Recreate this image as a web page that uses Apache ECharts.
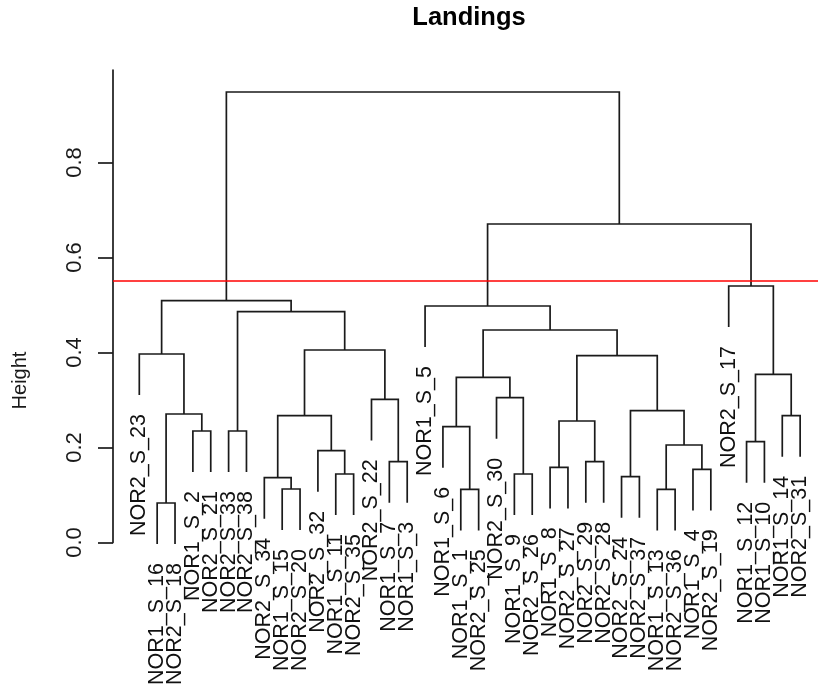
<!DOCTYPE html>
<html>
<head>
<meta charset="utf-8">
<title>Landings</title>
<script src="https://cdn.jsdelivr.net/npm/echarts@6/dist/echarts.min.js"></script>
<style>
  html, body { margin: 0; padding: 0; background: #ffffff; }
  #chart { width: 818px; height: 695px; }
</style>
</head>
<body>
<div id="chart"></div>
<script>
// Leaves in dendrogram order (left to right)
const leafLabels = [
  'NOR2_S_23', 'NOR1_S_16', 'NOR2_S_18', 'NOR1_S_2', 'NOR2_S_21', 'NOR2_S_33',
  'NOR2_S_38', 'NOR2_S_34', 'NOR1_S_15', 'NOR2_S_20', 'NOR2_S_32', 'NOR1_S_11',
  'NOR2_S_35', 'NOR2_S_22', 'NOR1_S_7', 'NOR1_S_3', 'NOR1_S_5', 'NOR1_S_6',
  'NOR1_S_1', 'NOR2_S_25', 'NOR2_S_30', 'NOR1_S_9', 'NOR2_S_26', 'NOR1_S_8',
  'NOR2_S_27', 'NOR2_S_29', 'NOR2_S_28', 'NOR2_S_24', 'NOR2_S_37', 'NOR1_S_13',
  'NOR2_S_36', 'NOR1_S_4', 'NOR2_S_19', 'NOR2_S_17', 'NOR1_S_12', 'NOR1_S_10',
  'NOR1_S_14', 'NOR2_S_31'
];

// Merge steps, hclust style: negative = leaf number (1-based), positive = earlier merge row (1-based)
const mergePairs = [
  [-2, -3], [-4, -5], [1, 2], [-1, 3], [-6, -7], [-9, -10], [-8, 6], [-12, -13],
  [-11, 8], [7, 9], [-15, -16], [-14, 11], [10, 12], [5, 13], [4, 14],
  [-19, -20], [-18, 16], [-22, -23], [-21, 18], [17, 19], [-24, -25], [-26, -27],
  [21, 22], [-28, -29], [-30, -31], [-32, -33], [25, 26], [24, 27], [23, 28],
  [20, 29], [-17, 30], [-35, -36], [-37, -38], [32, 33], [-34, 34], [31, 35],
  [15, 36]
];

// Height of each merge step
const mergeHeights = [
  0.0832, 0.2347, 0.2705, 0.3968, 0.2347, 0.1126, 0.1364, 0.1442,
  0.1933, 0.2669, 0.1701, 0.3015, 0.4053, 0.4859, 0.5091,
  0.1120, 0.2438, 0.1442, 0.3048, 0.3478, 0.1583, 0.1701,
  0.2558, 0.1385, 0.1120, 0.1541, 0.2053, 0.2775, 0.3933,
  0.4474, 0.4979, 0.2122, 0.2669, 0.3541, 0.5400, 0.6705,
  0.9484
];

const cutHeight = 0.55;
const yTicks = [0, 0.2, 0.4, 0.6, 0.8];
const chartTitle = 'Landings';
const yTitle = 'Height';

// Leaves hang below their parent by a tenth of the height range
const hang = 0.1 * (Math.max(...mergeHeights) - Math.min(...mergeHeights));

// Horizontal position of each merge = midpoint of its two children
const mergeX = [];
const segments = [];   // [xLeft, hLeft, xRight, hRight, hMerge]
const leafEnds = new Array(leafLabels.length);

function childPos(ref, parentH) {
  if (ref < 0) {
    const idx = -ref - 1;
    leafEnds[idx] = parentH - hang;
    return [idx, parentH - hang];
  }
  return [mergeX[ref - 1], mergeHeights[ref - 1]];
}

mergePairs.forEach(function (pair, i) {
  const h = mergeHeights[i];
  const a = childPos(pair[0], h);
  const b = childPos(pair[1], h);
  mergeX[i] = (a[0] + b[0]) / 2;
  segments.push([a[0], a[1], b[0], b[1], h]);
});

const leafData = leafLabels.map(function (name, i) { return [i, leafEnds[i]]; });

const FONT = '"Liberation Sans", Arial, sans-serif';
const INK = '#1a1a1a';
const chart = echarts.init(document.getElementById('chart'), null, { renderer: 'canvas' });

chart.setOption({
  animation: false,
  backgroundColor: '#ffffff',
  grid: { left: 113, right: 0, top: 70, bottom: 152.5 },
  xAxis: {
    type: 'value', min: -1.4726, max: 38.0, show: false
  },
  yAxis: {
    type: 'value', min: 0, max: 0.9947,
    axisLine: { show: true, onZero: false, lineStyle: { color: INK, width: 1.7 } },
    axisTick: { show: true, length: 15, customValues: yTicks, lineStyle: { color: INK, width: 1.7 } },
    axisLabel: {
      customValues: yTicks, rotate: 90, margin: 27,
      fontSize: 22, fontFamily: FONT, color: INK,
      formatter: function (v) { return v.toFixed(1); }
    },
    splitLine: { show: false }
  },
  graphic: [
    {
      type: 'text', x: 469, y: 17.5,
      style: { text: chartTitle, align: 'center', verticalAlign: 'middle',
               fontSize: 25.5, fontWeight: 'bold', fontFamily: FONT, fill: '#000' }
    },
    {
      type: 'text', x: 20.5, y: 380.5, rotation: Math.PI / 2,
      style: { text: yTitle, align: 'center', verticalAlign: 'middle',
               fontSize: 20, fontFamily: FONT, fill: INK }
    }
  ],
  series: [
    {
      type: 'custom',
      clip: false,
      data: segments,
      encode: { x: [0, 2], y: [1, 3, 4] },
      renderItem: function (params, api) {
        const p1 = api.coord([api.value(0), api.value(1)]);
        const p2 = api.coord([api.value(0), api.value(4)]);
        const p3 = api.coord([api.value(2), api.value(4)]);
        const p4 = api.coord([api.value(2), api.value(3)]);
        return {
          type: 'polyline',
          shape: { points: [p1, p2, p3, p4] },
          style: { stroke: INK, lineWidth: 1.7, fill: null }
        };
      },
      markLine: {
        silent: true, symbol: 'none', animation: false,
        label: { show: false },
        lineStyle: { color: '#ff0000', type: 'solid', width: 1.7 },
        data: [{ yAxis: cutHeight }]
      },
      z: 2
    },
    {
      type: 'custom',
      clip: false,
      data: leafData,
      encode: { x: 0, y: 1 },
      renderItem: function (params, api) {
        const p = api.coord([api.value(0), api.value(1)]);
        return {
          type: 'text',
          x: p[0], y: p[1] + 19,
          rotation: Math.PI / 2,
          style: {
            text: leafLabels[params.dataIndex],
            x: 0, y: 0, align: 'right', verticalAlign: 'middle',
            fontSize: 21.5, fontFamily: FONT, fill: '#111'
          }
        };
      },
      z: 2
    }
  ]
});
</script>
</body>
</html>
